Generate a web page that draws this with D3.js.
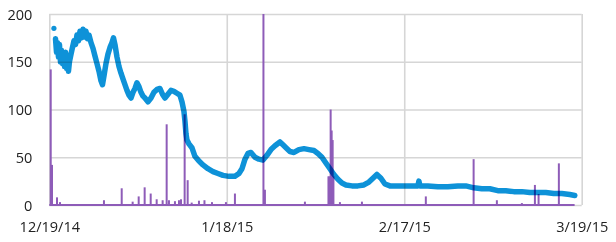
<!DOCTYPE html>
<html>
<head>
<meta charset="utf-8">
<script src="https://cdn.jsdelivr.net/npm/d3@7"></script>
<style>
  body { margin: 0; background: #fff; }
  svg { display: block; background: #fff; }
  .axis text { font-family: "Open Sans", sans-serif; font-size: 14.5px; fill: #222; }
  .axis line { stroke: #d6d6d6; stroke-width: 1.6; }
  .axis .domain { display: none; }
</style>
</head>
<body>
<svg></svg>
<script>
let width = 616;
let height = 242;

// days since 12/19/14
let startDate = Date.UTC(2014, 11, 19);
let xTickDays = [0, 30, 60, 90];
let xTickLabels = ['12/19/14', '1/18/15', '2/17/15', '3/19/15'];
let yTicks = [0, 50, 100, 150, 200];

// blue series: a lone first reading, then [day, value]
let blueFirstDay = 0.78;
let blueFirstValue = 185;
let blueDays = [1.05, 1.22, 1.39, 1.55, 1.72, 1.89, 2.06, 2.23, 2.40, 2.57, 2.74, 2.91, 3.08,
  3.24, 3.41, 3.67, 3.92, 4.17, 4.43, 4.68, 4.93, 5.19, 5.44, 5.70, 5.95, 6.20, 6.46, 6.71, 7.05,
  7.39, 7.72, 8.06, 8.40, 8.74, 8.99, 9.24, 9.58, 9.92, 10.26, 10.60, 10.85, 11.10, 11.44, 11.78,
  12.12, 12.45, 12.79, 13.13, 13.47, 13.81, 14.15, 14.48, 14.82, 15.16, 15.50, 15.84, 16.17, 16.68,
  17.19, 17.69, 18.20, 18.71, 19.13, 19.55, 20.06, 20.57, 21.07, 21.58, 22.09, 22.43, 22.76, 22.93,
  23.10, 23.27, 23.61, 24.11, 24.62, 25.30, 25.98, 26.82, 27.67, 28.51, 29.36, 30.37, 31.38, 32.06,
  32.57, 33.08, 33.58, 34.09, 34.77, 35.44, 36.12, 36.79, 37.47, 38.15, 38.99, 39.50, 40.01, 40.68,
  41.36, 42.20, 43.05, 43.89, 44.74, 45.41, 46.09, 46.76, 47.44, 48.11, 48.79, 49.47, 50.14, 51.16,
  52.17, 53.18, 54.03, 54.71, 55.38, 56.06, 56.74, 57.58, 58.93, 60.28, 61.63, 62.31, 62.48, 62.65,
  63.99, 65.68, 67.37, 69.06, 70.41, 71.76, 73.11, 74.47, 75.82, 77.17, 78.52, 79.87, 81.22, 82.57,
  83.93, 85.28, 86.63, 87.98, 88.83];
let blueValues = [174, 160, 170, 155, 168, 150, 162, 148, 158, 145, 160, 143, 152,
  140, 150, 158, 165, 172, 168, 178, 172, 182, 175, 184, 176, 182, 174, 178, 170,
  164, 156, 148, 140, 130, 126, 135, 148, 158, 165, 170, 175, 168, 155, 145,
  138, 132, 126, 120, 115, 112, 118, 122, 128, 124, 118, 114, 112, 108,
  112, 118, 121, 122, 116, 112, 116, 120, 119, 117, 115, 108, 98, 88,
  75, 68, 64, 60, 51, 46, 42, 38, 35, 33, 31, 30, 30, 33,
  38, 48, 54, 55, 50, 48, 47, 52, 58, 62, 66, 63, 60, 56,
  55, 58, 59, 58, 57, 54, 50, 44, 38, 32, 27, 23, 21, 20,
  20, 21, 24, 28, 32, 28, 22, 20, 20, 20, 20, 20, 25, 20,
  20, 19, 19, 20, 20, 18, 17, 17, 15, 15, 14, 14, 13, 13,
  13, 12, 12, 11, 10];

// purple series: spikes above a zero baseline
let purpleStart = 0;
let purpleEnd = 88.8;
let purpleDays = [0.24, 0.46, 1.30, 1.81, 9.24, 12.24, 14.09, 15.11, 16.12, 17.14, 18.15, 19.16,
  19.84, 20.23, 21.24, 21.92, 22.26, 22.88, 23.39, 24.07, 25.30, 26.23, 27.50, 29.86, 31.38,
  36.20, 36.45, 43.21, 47.19, 47.36, 47.56, 47.73, 47.90, 48.03, 49.13, 52.85, 63.65, 71.73,
  75.66, 79.89, 82.09, 82.71, 86.14];
let purpleValues = [142, 42, 8, 3, 5, 17.5, 3.5, 9, 18.5, 12, 6, 5,
  84.5, 5, 4, 5, 6, 95, 26, 2.5, 4.5, 5, 3, 3, 12,
  200, 16, 3.5, 30, 30, 100, 78, 68, 30, 3, 3.5, 9, 48,
  5, 2, 21, 11.5, 43.6];

let toDate = d => new Date(startDate + d * 864e5);

let xScale = d3.scaleUtc()
  .domain([toDate(0), toDate(90)])
  .range([49.3, 581.7]);

let yScale = d3.scaleLinear()
  .domain([0, 200])
  .range([205, 14]);

let svg = d3.select('svg')
  .attr('width', width)
  .attr('height', height);

let xAxis = d3.axisBottom(xScale)
  .tickValues(xTickDays.map(toDate))
  .tickFormat((d, i) => xTickLabels[i])
  .tickSize(-(yScale(0) - yScale(200)))
  .tickPadding(17);

let yAxis = d3.axisLeft(yScale)
  .tickValues(yTicks)
  .tickSize(-(xScale.range()[1] - xScale.range()[0]))
  .tickPadding(17);

svg.append('g')
  .attr('class', 'axis')
  .attr('transform', `translate(0, ${yScale(0)})`)
  .call(xAxis);

svg.append('g')
  .attr('class', 'axis')
  .attr('transform', `translate(${xScale.range()[0]}, 0)`)
  .call(yAxis)
  .selectAll('text')
    .attr('dy', '0.35em');

// purple
let plot = svg.append('g');

plot.append('line')
  .attr('x1', xScale(toDate(purpleStart)))
  .attr('x2', xScale(toDate(purpleEnd)))
  .attr('y1', yScale(0))
  .attr('y2', yScale(0))
  .attr('stroke', '#8e5cb8')
  .attr('stroke-width', 2.2);

plot.selectAll('line.spike')
  .data(purpleDays)
  .enter()
  .append('line')
    .attr('class', 'spike')
    .attr('x1', d => xScale(toDate(d)))
    .attr('x2', d => xScale(toDate(d)))
    .attr('y1', yScale(0))
    .attr('y2', (d, i) => yScale(purpleValues[i]))
    .attr('stroke', '#8e5cb8')
    .attr('stroke-width', 2);

// blue
let line = d3.line()
  .x(d => xScale(toDate(d[0])))
  .y(d => yScale(d[1]));

plot.append('circle')
  .attr('cx', xScale(toDate(blueFirstDay)))
  .attr('cy', yScale(blueFirstValue))
  .attr('r', 2.6)
  .attr('fill', '#0e92d8');

plot.append('path')
  .datum(blueDays.map((d, i) => [d, blueValues[i]]))
  .attr('d', line)
  .attr('fill', 'none')
  .attr('stroke', '#0e92d8')
  .attr('stroke-width', 5.5)
  .attr('stroke-linejoin', 'round')
  .attr('stroke-linecap', 'round')
  .style('mix-blend-mode', 'multiply');
</script>
</body>
</html>
